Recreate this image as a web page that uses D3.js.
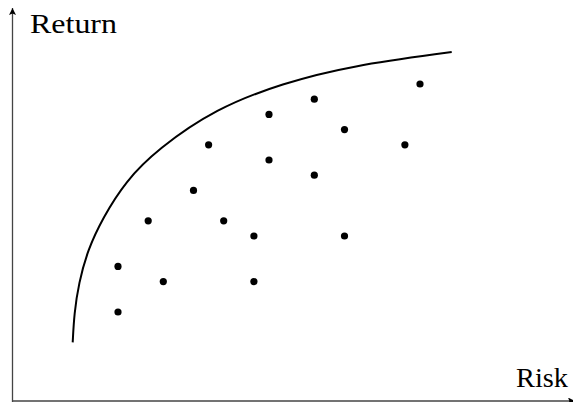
<!DOCTYPE html>
<html>
<head>
<meta charset="utf-8">
<script src="https://cdn.jsdelivr.net/npm/d3@7"></script>
<style>
  html, body { margin: 0; padding: 0; background: #fff; }
  svg { display: block; }
</style>
</head>
<body>
<script>
// portfolios (risk, return)
var riskVals   = [27, 20, 17, 22, 13, 26, 17, 20, 12, 9, 14, 16, 22, 7, 10, 16, 7];
var returnVals = [21, 20, 19, 18, 17, 17, 16, 15, 14, 12, 12, 11, 11, 9, 8, 8, 6];

// efficient frontier
var frontierRisk   = [4.0, 4.1, 4.4, 5.0, 6.0, 7.5, 9.6, 13.5, 17.9, 22.4, 29.1];
var frontierReturn = [4.0, 5.9, 7.9, 10.1, 12.2, 14.6, 16.7, 19.4, 21.05, 22.2, 23.1];

var axisLabels = ["Return", "Risk"];

var width = 573, height = 402;

var x = d3.scaleLinear().domain([0, 37]).range([12.3, 12.3 + 37 * 15.1]);
var y = d3.scaleLinear().domain([0, 26]).range([403.2, 403.2 - 26 * 15.2]);

var svg = d3.select("body").append("svg")
    .attr("width", width)
    .attr("height", height);

var defs = svg.append("defs");
defs.append("marker")
    .attr("id", "arrow")
    .attr("viewBox", "0 0 10 10")
    .attr("refX", 10).attr("refY", 5)
    .attr("markerUnits", "userSpaceOnUse")
    .attr("markerWidth", 10).attr("markerHeight", 7)
    .attr("orient", "auto")
  .append("path")
    .attr("d", "M0,0 L10,5 L0,10 L2,5 Z")
    .attr("fill", "#000");

// axes
svg.append("line")
    .attr("x1", 12.5).attr("y1", 402)
    .attr("x2", 12.5).attr("y2", 8)
    .attr("stroke", "#444").attr("stroke-width", 1.3)
    .attr("marker-end", "url(#arrow)");

svg.append("line")
    .attr("x1", 12).attr("y1", 401)
    .attr("x2", 575).attr("y2", 401)
    .attr("stroke", "#444").attr("stroke-width", 1.3)
    .attr("marker-end", "url(#arrow)");

// frontier
var line = d3.line()
    .x(function(d, i) { return x(frontierRisk[i]); })
    .y(function(d, i) { return y(frontierReturn[i]); })
    .curve(d3.curveBasis);

svg.append("path")
    .datum(frontierRisk)
    .attr("d", line)
    .attr("fill", "none")
    .attr("stroke", "#000")
    .attr("stroke-width", 2);

// dots
svg.selectAll("circle.pt")
    .data(riskVals)
    .enter().append("circle")
    .attr("class", "pt")
    .attr("cx", function(d) { return x(d); })
    .attr("cy", function(d, i) { return y(returnVals[i]); })
    .attr("r", 3.6)
    .attr("fill", "#000");

// labels
svg.append("text")
    .attr("x", 30).attr("y", 33)
    .style("font-family", "Liberation Serif")
    .style("font-size", "28px")
    .attr("textLength", 87)
    .attr("lengthAdjust", "spacingAndGlyphs")
    .text(axisLabels[0]);

svg.append("text")
    .attr("x", 516).attr("y", 387)
    .style("font-family", "Liberation Serif")
    .style("font-size", "28px")
    .attr("textLength", 52)
    .attr("lengthAdjust", "spacingAndGlyphs")
    .text(axisLabels[1]);
</script>
</body>
</html>
